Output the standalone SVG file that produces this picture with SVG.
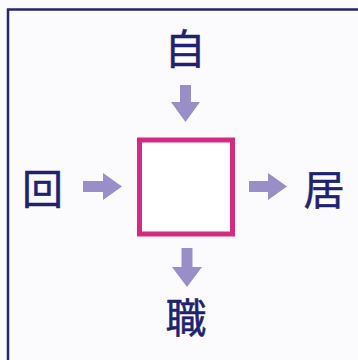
<svg xmlns="http://www.w3.org/2000/svg" width="358" height="360" viewBox="0 0 358 360">
<style>
.bg{fill:#fbfbfd}
.frame{fill:none;stroke:#26266e;stroke-width:2.5}
.box{fill:#ffffff;stroke:#d52a7f;stroke-width:5}
.arr{fill:#9a8ec9}
.t{font-family:"Noto Sans CJK JP","Noto Sans CJK SC",sans-serif;font-size:41px;font-weight:400;fill:#1f2270;stroke:#1f2270;stroke-width:0.5;text-anchor:middle;dominant-baseline:central}
</style>
<rect class="bg" x="0" y="0" width="358" height="360"/>
<path class="frame" d="M8,362 V9.5 H360"/>
<g id="center"><rect class="box" x="139.5" y="140" width="93" height="94"/></g>
<g id="top"><text class="t" x="185" y="46">自</text></g>
<g id="left"><text class="t" x="42.5" y="186">回</text></g>
<g id="right"><text class="t" x="324" y="187">居</text></g>
<g id="bottom"><text class="t" x="186" y="315">職</text></g>
<g id="connectors">
<polygon class="arr" points="180,85 191,85 191,102 200,102 185.5,122 171,102 180,102"/>
<polygon class="arr" points="181.5,248 192.5,248 192.5,267 202,267 187,287 172,267 181.5,267"/>
<polygon class="arr" points="83,181 103,181 103,173 122,186.5 103,200 103,192 83,192"/>
<polygon class="arr" points="249,181 268,181 268,173 287,186.5 268,200 268,192 249,192"/>
</g>
</svg>
